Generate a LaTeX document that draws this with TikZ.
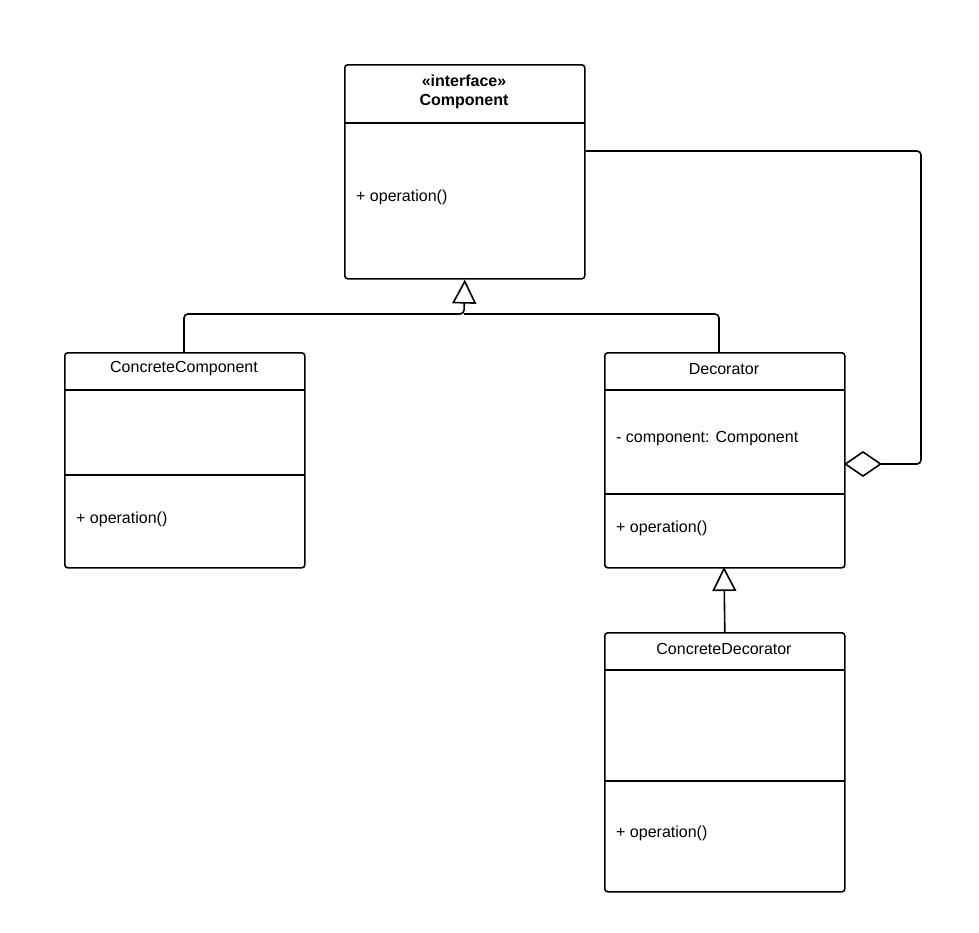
\documentclass[tikz,border=0pt]{standalone}
\usepackage{fontspec}
\setmainfont{Liberation Sans}
\usetikzlibrary{arrows.meta}
\begin{document}
\begin{tikzpicture}[x=1pt,y=-1pt,
 box/.style={draw,line width=1.6pt,rounded corners=3pt,inner sep=0pt,anchor=north west},
 div/.style={line width=1.6pt},
 txt/.style={font=\fontsize{16}{18}\selectfont,inner sep=0pt},
 ln/.style={line width=1.6pt,rounded corners=4pt},
 gen/.style={-{Triangle[open,length=24pt,width=24pt]},line width=1.6pt,rounded corners=4pt},
 agg/.style={-{Diamond[open,length=38pt,width=26pt]},line width=1.6pt,rounded corners=4pt}]
\useasboundingbox (0,0) rectangle (979,932);
% Component
\node[box,minimum width=240pt,minimum height=214pt] (comp) at (344,64) {};
\draw[div] (344,123) -- (584,123);
\node[txt,font=\fontsize{16}{18}\selectfont\bfseries] (ci) at (464,81) {<<interface>>};
\node[txt,font=\fontsize{16}{18}\selectfont\bfseries] (cn) at (464,102) {Component};
\node[txt,anchor=west] (cop) at (356,197) {+ operation()};
% ConcreteComponent
\node[box,minimum width=240pt,minimum height=215pt] (cc) at (64,352) {};
\draw[div] (64,390) -- (304,390);
\draw[div] (64,475) -- (304,475);
\node[txt] (cct) at (184,369) {ConcreteComponent};
\node[txt,anchor=west] (ccop) at (76,519) {+ operation()};
% Decorator
\node[box,minimum width=240pt,minimum height=215pt] (dec) at (604,352) {};
\draw[div] (604,390) -- (844,390);
\draw[div] (604,494) -- (844,494);
\node[txt] (dect) at (724,369) {Decorator};
\node[txt,anchor=west] (deca) at (616,439) {- component: Component};
\node[txt,anchor=west] (decop) at (616,528) {+ operation()};
% ConcreteDecorator
\node[box,minimum width=240pt,minimum height=259pt] (cd) at (604,632) {};
\draw[div] (604,670) -- (844,670);
\draw[div] (604,781) -- (844,781);
\node[txt] (cdt) at (724,649) {ConcreteDecorator};
\node[txt,anchor=west] (cdop) at (616,833) {+ operation()};
% connectors
\coordinate (m) at (464,314);
\draw[gen] (cc.north west) ++(120,0) |- (m) -- (comp.south);
\draw[ln] (dec.north west) ++(115,0) |- (m);
\draw[gen] (cd.north) -- (724,567);
\draw[agg] (comp.north east) ++(0,87) -| (921,464) -- (844,464);
\end{tikzpicture}
\end{document}
